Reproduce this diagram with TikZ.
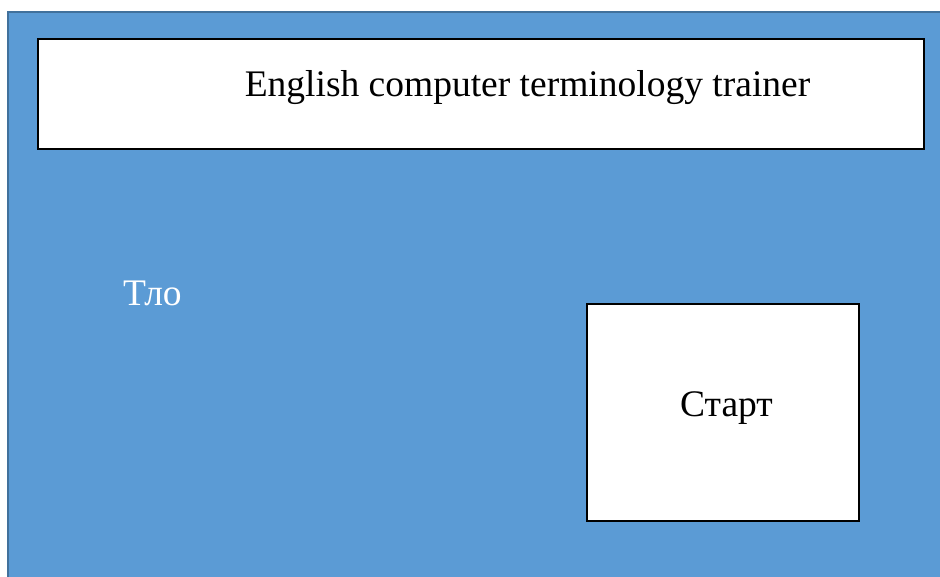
\documentclass[tikz,border=0pt]{standalone}
\usepackage{fontspec}
\setmainfont{Liberation Serif}
\definecolor{panelfill}{HTML}{5B9BD5}
\definecolor{paneledge}{HTML}{41719C}
\begin{document}
\begin{tikzpicture}[x=1pt,y=-1pt,
  panel/.style={fill=panelfill,draw=paneledge,line width=2pt},
  whitebox/.style={fill=white,draw=black,line width=2.6pt},
  label/.style={font=\fontsize{37.5}{44}\selectfont,inner sep=0pt}]
  \useasboundingbox[fill=white] (0,0) rectangle (940,577);
  % background panel running off the right and bottom edges
  \draw[panel] (8,12) rectangle (960,600);
  % title bar
  \draw[whitebox] (38,39) rectangle (924,149);
  \node[label] (title) at (527.5,88) {English computer terminology trainer};
  % caption on the panel
  \node[label,text=white,anchor=west] (bg) at (123,293) {Тло};
  % start button
  \draw[whitebox] (587,304) rectangle (859,521);
  \node[label] (start) at (726.5,408) {Старт};
\end{tikzpicture}
\end{document}
